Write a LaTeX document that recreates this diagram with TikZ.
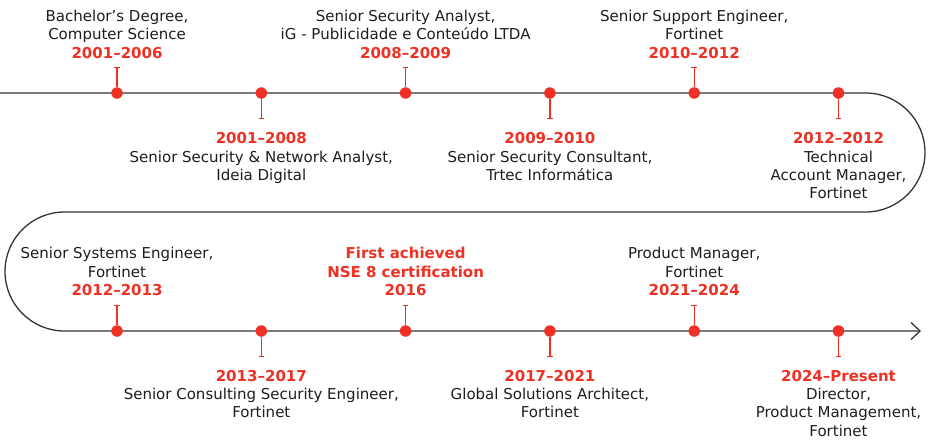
\documentclass[tikz,border=0pt]{standalone}
\usepackage{fontspec}
\setmainfont{DejaVu Sans}
\usetikzlibrary{arrows.meta}
\definecolor{fred}{RGB}{238,49,36}
\definecolor{ink}{RGB}{30,30,30}
\newcommand\yrtxt[1]{{\color{fred}\bfseries #1}}
\begin{document}
\begin{tikzpicture}[x=1pt,y=-1pt,
  dot/.style={circle,fill=fred,inner sep=0pt,minimum size=11.5pt},
  tickline/.style={draw=fred,line width=1.3pt,-{Bar[width=5.5pt]}},
  mainline/.style={draw=ink!90,line width=1.3pt},
  lbl/.style={align=center,inner sep=0pt,text=ink,font=\fontsize{15}{18.3}\selectfont},
  upper/.style={lbl,anchor=south},
  lower/.style={lbl,anchor=north}]
\fill[white] (0,0) rectangle (928,440);
\useasboundingbox (0,0) rectangle (928,440);
% timeline
\coordinate (s) at (0,93);
\coordinate (r1) at (865.5,93);
\coordinate (r2) at (64.5,212);
\coordinate (e) at (921,331);
\draw[mainline,-{Straight Barb[length=9pt,width=17pt]}] (s) -- (r1)
  arc[start angle=-90,end angle=90,radius=59.5] -- (r2)
  arc[start angle=-90,end angle=-270,radius=59.5] -- (e);
% dots
\foreach \i/\x/\y in {1/117/93,2/261.3/93,3/405.6/93,4/549.9/93,5/694.2/93,6/838.5/93,
                      7/117/331,8/261.3/331,9/405.6/331,10/549.9/331,11/694.2/331,12/838.5/331}{
  \node[dot] (d\i) at (\x,\y) {};
}
% tick ends
\foreach \i/\x/\y in {1/117/67,3/405.6/67,5/694.2/67,7/117/305,9/405.6/305,11/694.2/305}{
  \coordinate (k\i) at (\x,\y);
}
\foreach \i/\x/\y in {2/261.3/119,4/549.9/119,6/838.5/119,8/261.3/357,10/549.9/357,12/838.5/357}{
  \coordinate (k\i) at (\x,\y);
}
\foreach \i in {1,...,12}{ \draw[tickline] (d\i) -- (k\i); }
% labels
\node[upper] (t1) at (117,58.5) {Bachelor’s Degree,\\Computer Science\\\yrtxt{2001–2006}};
\node[lower] (t2) at (261.3,132.5) {\yrtxt{2001–2008}\\Senior Security \& Network Analyst,\\Ideia Digital};
\node[upper] (t3) at (405.6,58.5) {Senior Security Analyst,\\iG - Publicidade e Conteúdo LTDA\\\yrtxt{2008–2009}};
\node[lower] (t4) at (549.9,132.5) {\yrtxt{2009–2010}\\Senior Security Consultant,\\Trtec Informática};
\node[upper] (t5) at (694.2,58.5) {Senior Support Engineer,\\Fortinet\\\yrtxt{2010–2012}};
\node[lower] (t6) at (838.5,132.5) {\yrtxt{2012–2012}\\Technical\\Account Manager,\\Fortinet};
\node[upper] (t7) at (117,296) {Senior Systems Engineer,\\Fortinet\\\yrtxt{2012–2013}};
\node[lower] (t8) at (261.3,370) {\yrtxt{2013–2017}\\Senior Consulting Security Engineer,\\Fortinet};
\node[upper] (t9) at (405.6,296) {\yrtxt{First achieved}\\\yrtxt{NSE 8 certification}\\\yrtxt{2016}};
\node[lower] (t10) at (549.9,370) {\yrtxt{2017–2021}\\Global Solutions Architect,\\Fortinet};
\node[upper] (t11) at (694.2,296) {Product Manager,\\Fortinet\\\yrtxt{2021–2024}};
\node[lower] (t12) at (838.5,370) {\yrtxt{2024–Present}\\Director,\\Product Management,\\Fortinet};
\end{tikzpicture}
\end{document}
